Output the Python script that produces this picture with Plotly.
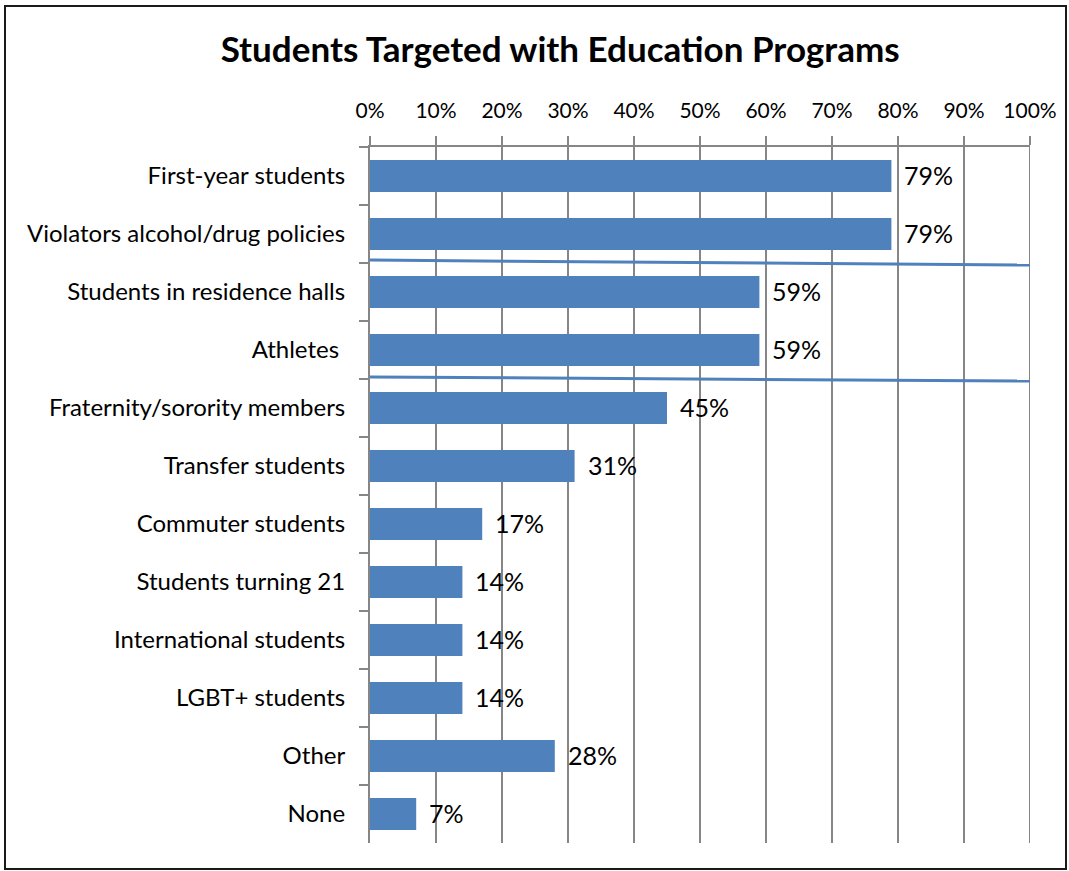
import plotly.graph_objects as go

categories = [
    "First-year students",
    "Violators alcohol/drug policies",
    "Students in residence halls",
    "Athletes ",
    "Fraternity/sorority members",
    "Transfer students",
    "Commuter students",
    "Students turning 21",
    "International students",
    "LGBT+ students",
    "Other",
    "None",
]
values = [79, 79, 59, 59, 45, 31, 17, 14, 14, 14, 28, 7]
x_ticks = [0, 10, 20, 30, 40, 50, 60, 70, 80, 90, 100]
x_tick_labels = [f"{v}%" for v in x_ticks]

W, H = 1069, 871
ML, MR, MT, MB = 370, 39, 147, 28
PW, PH = W - ML - MR, H - MT - MB

def px_x(px):
    return (px - ML) / PW

def px_y(py):
    return 1 - (py - MT) / PH

FONT = "Lato, 'Open Sans', sans-serif"
BLUE = "#4F81BD"
GRID = "#868686"

fig = go.Figure()
fig.add_trace(go.Bar(
    x=values, y=categories, orientation="h",
    marker=dict(color=BLUE, line=dict(width=0)),
    hoverinfo="skip",
))

for c, v in zip(categories, values):
    fig.add_annotation(
        x=v, y=c, text=f"{v}%", showarrow=False,
        xanchor="left", yanchor="middle", xshift=11, yshift=1,
        font=dict(family=FONT, size=25, color="black"),
    )

# gridline at the right edge of the range (plotly omits it)
fig.add_shape(type="line", xref="x", yref="paper", x0=100, x1=100, y0=0,
              y1=px_y(138), line=dict(color=GRID, width=2), layer="below")

# blue divider lines drawn across the chart
fig.add_shape(type="line", xref="x", yref="y", x0=0, x1=100, y0=1.45, y1=1.535,
              line=dict(color=BLUE, width=3))
fig.add_shape(type="line", xref="x", yref="y", x0=0, x1=100, y0=3.465, y1=3.535,
              line=dict(color=BLUE, width=3))

# outer border
fig.add_shape(type="rect", xref="paper", yref="paper",
              x0=px_x(5), x1=px_x(1066), y0=px_y(869), y1=px_y(6),
              line=dict(color="#1a1a1a", width=2), layer="above")

fig.update_layout(
    width=W, height=H,
    margin=dict(l=ML, r=MR, t=MT, b=MB, pad=0),
    paper_bgcolor="white", plot_bgcolor="white",
    showlegend=False,
    bargap=0.45,
    title=dict(
        text="<b>Students Targeted with Education Programs</b>",
        x=0.524, xanchor="center", y=1 - 50 / H, yanchor="middle",
        xref="container", yref="container",
        font=dict(family=FONT, size=35, color="black"),
    ),
    xaxis=dict(
        side="top", range=[0, 100], tickvals=x_ticks, ticktext=x_tick_labels,
        showgrid=True, gridcolor=GRID, gridwidth=2,
        ticks="outside", ticklen=9, tickwidth=2, tickcolor=GRID,
        showline=True, linecolor=GRID, linewidth=2, zeroline=False,
        tickfont=dict(family=FONT, size=21, color="black"),
        ticklabelstandoff=10,
    ),
    yaxis=dict(
        autorange="reversed", type="category",
        tickson="boundaries", ticks="outside", ticklen=9, tickwidth=2, tickcolor=GRID,
        showline=True, linecolor=GRID, linewidth=2,
        showgrid=False, zeroline=False,
        tickfont=dict(family=FONT, size=24, color="black"),
        ticklabelstandoff=18,
    ),
)

fig.write_html(
    "out.html",
    config={"displayModeBar": False},
    post_script="document.body.style.margin='0';document.body.style.overflow='hidden';",
)
